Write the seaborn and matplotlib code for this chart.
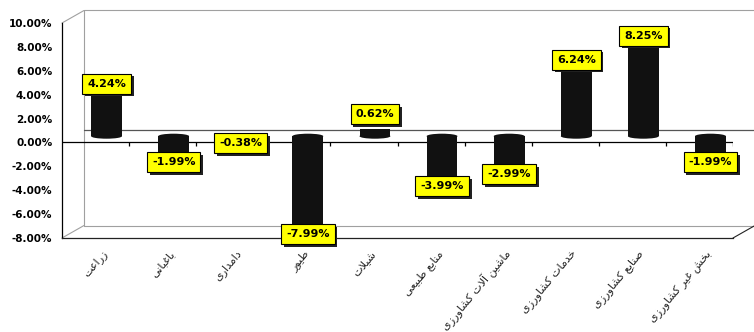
import matplotlib
matplotlib.use("Agg")
import matplotlib.pyplot as plt
import matplotlib.patheffects as pe
from matplotlib.patches import Ellipse
from matplotlib.transforms import ScaledTranslation
import seaborn as sns
import pandas as pd

# ---- data -------------------------------------------------------------
categories = ["زراعت", "باغبانی", "دامداری", "طیور", "شیلات", "منابع طبیعی",
              "ماشین آلات کشاورزی", "خدمات کشاورزی", "صنایع کشاورزی",
              "بخش غیر کشاورزی"]
values = [4.24, -1.99, -0.38, -7.99, 0.62, -3.99, -2.99, 6.24, 8.25, -1.99]
y_ticks = [-8, -6, -4, -2, 0, 2, 4, 6, 8, 10]
y_tick_labels = [f"{v:.2f}%" for v in y_ticks]
value_labels = [f"{v:.2f}%" for v in values]

# ---- minimal Persian shaping (presentation forms, visual order) -------
FORMS = {  # isolated, final, initial, medial
    "ا": ("\uFE8D", "\uFE8E", None, None),
    "آ": ("\uFE81", "\uFE82", None, None),
    "ب": ("\uFE8F", "\uFE90", "\uFE91", "\uFE92"),
    "ت": ("\uFE95", "\uFE96", "\uFE97", "\uFE98"),
    "خ": ("\uFEA5", "\uFEA6", "\uFEA7", "\uFEA8"),
    "د": ("\uFEA9", "\uFEAA", None, None),
    "ر": ("\uFEAD", "\uFEAE", None, None),
    "ز": ("\uFEAF", "\uFEB0", None, None),
    "ش": ("\uFEB5", "\uFEB6", "\uFEB7", "\uFEB8"),
    "ص": ("\uFEB9", "\uFEBA", "\uFEBB", "\uFEBC"),
    "ط": ("\uFEC1", "\uFEC2", "\uFEC3", "\uFEC4"),
    "ع": ("\uFEC9", "\uFECA", "\uFECB", "\uFECC"),
    "غ": ("\uFECD", "\uFECE", "\uFECF", "\uFED0"),
    "ل": ("\uFEDD", "\uFEDE", "\uFEDF", "\uFEE0"),
    "م": ("\uFEE1", "\uFEE2", "\uFEE3", "\uFEE4"),
    "ن": ("\uFEE5", "\uFEE6", "\uFEE7", "\uFEE8"),
    "و": ("\uFEED", "\uFEEE", None, None),
    "ی": ("\uFBFC", "\uFBFD", "\uFBFE", "\uFBFF"),
    "ک": ("\uFB8E", "\uFB8F", "\uFB90", "\uFB91"),
}
LAM_ALEF = {"ا": ("\uFEFB", "\uFEFC"), "آ": ("\uFEF5", "\uFEF6")}


def joins_next(c):
    return c in FORMS and FORMS[c][2] is not None


def shape(text):
    text = text.replace("ي", "ی").replace("ك", "ک")
    out, i, n = [], 0, len(text)
    while i < n:
        c = text[i]
        if c not in FORMS:
            out.append(c)
            i += 1
            continue
        prev_join = i > 0 and joins_next(text[i - 1])
        if c == "ل" and i + 1 < n and text[i + 1] in LAM_ALEF:
            out.append(LAM_ALEF[text[i + 1]][1 if prev_join else 0])
            i += 2
            continue
        next_join = joins_next(c) and i + 1 < n and text[i + 1] in FORMS
        iso, fin, ini, med = FORMS[c]
        if prev_join and next_join:
            out.append(med)
        elif prev_join:
            out.append(fin)
        elif next_join:
            out.append(ini)
        else:
            out.append(iso)
        i += 1
    return "".join(reversed(out))


shaped = [shape(c) for c in categories]
df = pd.DataFrame({"category": shaped, "value": values})

# ---- figure geometry ----------------------------------------------------
W, H = 754, 332
sns.set_style("white")
plt.rcParams["font.family"] = ["DejaVu Sans"]
fig = plt.figure(figsize=(W / 100, H / 100), dpi=100)
fig.patch.set_facecolor("white")

ax_l, ax_r, ax_b, ax_t = 62, 733, 238, 23
ax = fig.add_axes([ax_l / W, (H - ax_b) / H, (ax_r - ax_l) / W, (ax_b - ax_t) / H])
n = len(values)
xlim = (-0.5, n - 0.5)
ylim = (-8, 10)
px_x = (ax_r - ax_l) / (xlim[1] - xlim[0])
px_y = (ax_b - ax_t) / (ylim[1] - ylim[0])

depth_px_x, depth_px_y = 22, 12.5
dx, dy = depth_px_x / px_x, depth_px_y / px_y

ax.set_xlim(*xlim)
ax.set_ylim(*ylim)
for s in ["top", "right"]:
    ax.spines[s].set_visible(False)
ax.spines["left"].set_color("black")
ax.spines["bottom"].set_color("#222222")
ax.spines["left"].set_linewidth(0.9)
ax.spines["bottom"].set_linewidth(0.9)

# y axis
ax.set_yticks(y_ticks)
ax.set_yticklabels(y_tick_labels, fontsize=7.5, fontweight="bold")
ax.tick_params(axis="y", direction="out", length=4, width=0.9, pad=3, colors="black")

# x axis: boundary ticks + category labels on minor ticks
bounds = [b - 0.5 for b in range(n + 1)]
ax.set_xticks(bounds)
ax.set_xticklabels([""] * len(bounds))
ax.tick_params(axis="x", which="major", direction="out", length=4, width=0.9, colors="#222222")
ax.set_xticks(range(n), minor=True)
ax.set_xticklabels(shaped, minor=True, rotation=50, ha="right", va="center",
                   rotation_mode="anchor", fontsize=8)
ax.tick_params(axis="x", which="minor", length=0, pad=10)
shift = ScaledTranslation(10 / 100, 0, fig.dpi_scale_trans)
for lbl in ax.get_xticklabels(minor=True):
    lbl.set_transform(lbl.get_transform() + shift)

# back wall and side edges
wall = "#a0a0a0"
bx0, bx1 = xlim[0] + dx, xlim[1] + dx
by0, by1 = ylim[0] + dy, ylim[1] + dy
kw = dict(color=wall, lw=0.8, clip_on=False, zorder=0)
ax.plot([bx0, bx0], [by0, by1], **kw)
ax.plot([bx0, bx1], [by1, by1], **kw)
ax.plot([bx0, bx1], [by0, by0], **kw)
ax.plot([xlim[0], bx0], [ylim[1], by1], **kw)
ax.plot([xlim[0], bx0], [ylim[0], by0], **kw)
ax.plot([xlim[1], bx1], [ylim[0], by0], color="#222222", lw=0.8, clip_on=False)
ax.plot([bx0, bx1], [dy, dy], color="#555555", lw=0.9, clip_on=False, zorder=0)

# front zero line with boundary ticks
ax.axhline(0, color="black", lw=0.9, zorder=1)
ax.vlines(bounds[1:], -4 / px_y, 0, color="black", lw=0.9, zorder=1)

# ---- bars, drawn half-way into the depth ---------------------------
off_x, off_y = depth_px_x / 2, depth_px_y / 2
bar_ax = fig.add_axes([(ax_l + off_x) / W, (H - ax_b + off_y) / H,
                       (ax_r - ax_l) / W, (ax_b - ax_t) / H])
bar_ax.patch.set_alpha(0)
bar_w = 0.46
sns.barplot(data=df, x="category", y="value", color="#111111", saturation=1,
            width=bar_w, ax=bar_ax, edgecolor="none")
bar_ax.set_xlim(*xlim)
bar_ax.set_ylim(*ylim)
bar_ax.axis("off")

ell_h = 5 / px_y
for p in list(bar_ax.patches):
    cx = p.get_x() + p.get_width() / 2
    bar_ax.add_patch(Ellipse((cx, 0), p.get_width(), ell_h, facecolor="#111111",
                             edgecolor="none", zorder=p.get_zorder()))

# value labels
for i, (v, txt) in enumerate(zip(values, value_labels)):
    if v >= 0:
        off_px = max(2, 22 - v * px_y)
    else:
        off_px = -2.5
    ann = bar_ax.annotate(txt, (i, v), xytext=(0, off_px * 0.72), textcoords="offset points",
                          ha="center", va="center", fontsize=8, fontweight="bold",
                          color="black", zorder=5,
                          bbox=dict(boxstyle="square,pad=0.45", facecolor="#ffff00",
                                    edgecolor="black", linewidth=0.8))
    ann.get_bbox_patch().set_path_effects(
        [pe.withSimplePatchShadow(offset=(2, -2), shadow_rgbFace="#222222", alpha=1)])

fig.savefig("out.png", dpi=100, facecolor="white")
